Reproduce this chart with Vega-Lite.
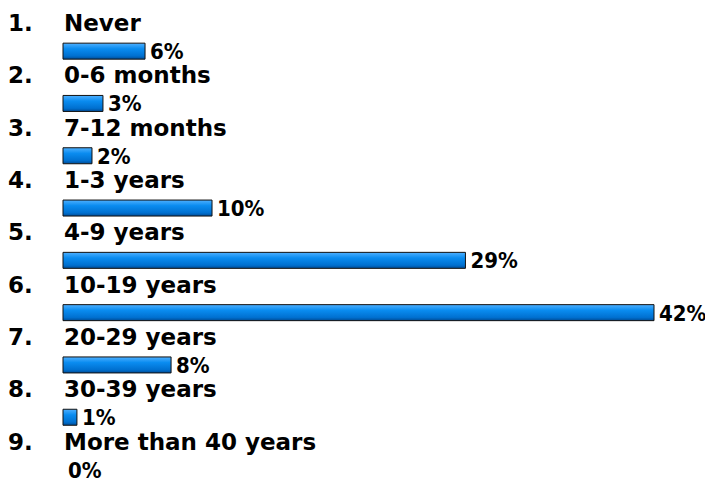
{
  "$schema": "https://vega.github.io/schema/vega-lite/v6.json",
  "autosize": {"type": "fit", "contains": "padding"},
  "width": 705,
  "height": 480,
  "padding": 0,
  "background": "white",
  "config": {"view": {"stroke": null}},
  "data": {
    "values": [
      {"num": "1.", "cat": "Never", "value": 5.83, "label": "6%"},
      {"num": "2.", "cat": "0-6 months", "value": 2.84, "label": "3%"},
      {"num": "3.", "cat": "7-12 months", "value": 2.06, "label": "2%"},
      {"num": "4.", "cat": "1-3 years", "value": 10.59, "label": "10%"},
      {"num": "5.", "cat": "4-9 years", "value": 28.6, "label": "29%"},
      {"num": "6.", "cat": "10-19 years", "value": 42.0, "label": "42%"},
      {"num": "7.", "cat": "20-29 years", "value": 7.68, "label": "8%"},
      {"num": "8.", "cat": "30-39 years", "value": 0.99, "label": "1%"},
      {"num": "9.", "cat": "More than 40 years", "value": 0, "label": "0%"}
    ]
  },
  "encoding": {
    "y": {
      "field": "cat",
      "type": "nominal",
      "sort": null,
      "axis": null,
      "scale": {"range": [3, 473.7], "paddingInner": 0, "paddingOuter": 0}
    }
  },
  "layer": [
    {
      "mark": {
        "type": "bar",
        "height": 16,
        "yOffset": 22,
        "stroke": "#111111",
        "strokeWidth": 1,
        "color": {
          "gradient": "linear",
          "x1": 0, "y1": 0, "x2": 0, "y2": 1,
          "stops": [
            {"offset": 0, "color": "#4fb0ff"},
            {"offset": 0.35, "color": "#0a8cf0"},
            {"offset": 0.8, "color": "#0070d0"},
            {"offset": 1, "color": "#004c96"}
          ]
        }
      },
      "encoding": {
        "x": {
          "field": "value",
          "type": "quantitative",
          "axis": null,
          "scale": {"domain": [0, 42], "range": [63, 654], "nice": false, "zero": true}
        },
        "strokeOpacity": {
          "condition": {"test": "datum.value == 0", "value": 0},
          "value": 1
        }
      }
    },
    {
      "mark": {
        "type": "text",
        "align": "left",
        "baseline": "middle",
        "dx": 5,
        "dy": 23,
        "font": "DejaVu Sans Condensed",
        "fontWeight": "bold",
        "fontSize": 22,
        "color": "#000000"
      },
      "encoding": {
        "x": {"field": "value", "type": "quantitative"},
        "text": {"field": "label"}
      }
    },
    {
      "mark": {
        "type": "text",
        "align": "left",
        "baseline": "middle",
        "dx": -55,
        "dy": -5,
        "font": "DejaVu Sans",
        "fontWeight": "bold",
        "fontSize": 23,
        "color": "#000000"
      },
      "encoding": {
        "x": {"datum": 0, "type": "quantitative"},
        "text": {"field": "num"}
      }
    },
    {
      "mark": {
        "type": "text",
        "align": "left",
        "baseline": "middle",
        "dx": 1,
        "dy": -5,
        "font": "DejaVu Sans",
        "fontWeight": "bold",
        "fontSize": 23,
        "color": "#000000"
      },
      "encoding": {
        "x": {"datum": 0, "type": "quantitative"},
        "text": {"field": "cat"}
      }
    }
  ]
}
